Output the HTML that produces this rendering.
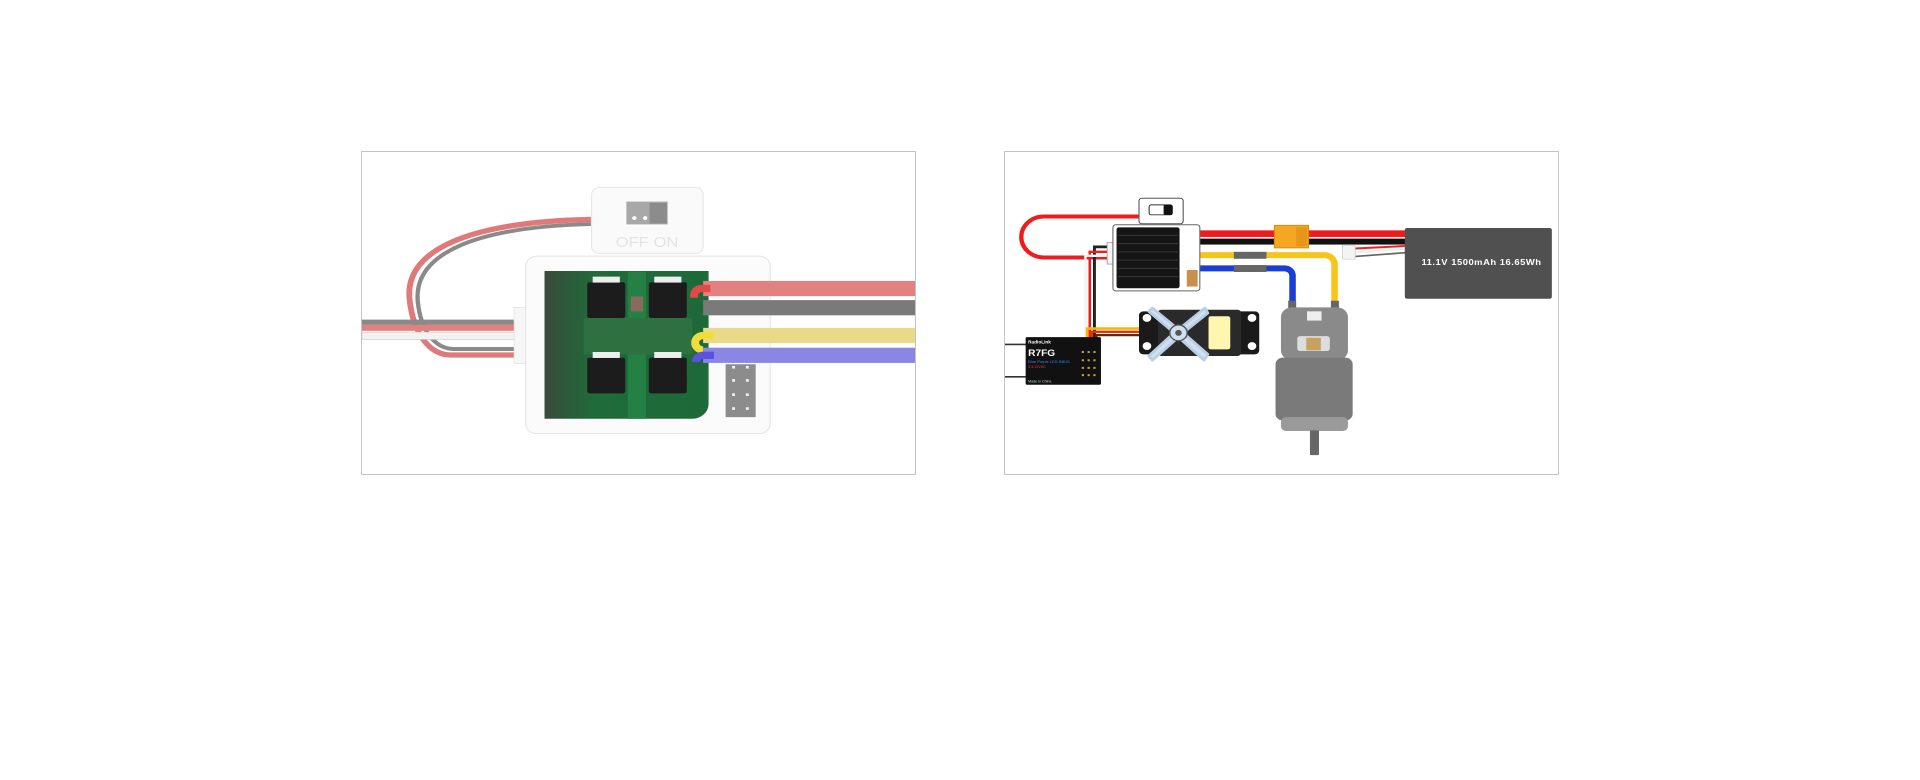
<!DOCTYPE html>
<html><head><meta charset="utf-8"><style>
html,body{margin:0;padding:0;background:#fff;width:1920px;height:780px;overflow:hidden}
.box{position:absolute;top:151px;width:553px;height:322px;border:1px solid #c4c4c4;background:#fff}
svg{position:absolute;left:0;top:0;width:553px;height:322px}
text{font-family:"Liberation Sans",sans-serif}
</style></head><body>
<div class="box" style="left:361px">
<svg viewBox="18 18 1527 974" preserveAspectRatio="none">
<defs>
<linearGradient id="pcb" x1="0" x2="1"><stop offset="0" stop-color="#3a4a3a"/><stop offset="0.3" stop-color="#1f6b3a"/><stop offset="1" stop-color="#1d6a38"/></linearGradient>
</defs>
<path d="M650 222 C 300 230 130 320 150 470 C 160 560 200 630 260 632 L 445 632" fill="none" stroke="#e07a7a" stroke-width="16"/>
<path d="M650 236 C 320 245 160 330 172 470 C 180 560 220 612 270 614 L 445 614" fill="none" stroke="#8a8a8a" stroke-width="12"/>
<rect x="18" y="525" width="430" height="16" fill="#8a8a8a"/>
<rect x="18" y="541" width="430" height="18" fill="#e48080"/>
<rect x="18" y="563" width="430" height="22" fill="#f2f2f2" stroke="#ccc" stroke-width="2"/>
<rect x="652" y="125" width="308" height="200" rx="22" fill="#fafafa" stroke="#e6e6e6" stroke-width="3"/>
<rect x="748" y="168" width="114" height="69" fill="#a8a8a8"/>
<rect x="812" y="172" width="48" height="62" fill="#8c8c8c"/>
<circle cx="770" cy="218" r="6" fill="#fff"/><circle cx="800" cy="218" r="6" fill="#fff"/>
<text x="805" y="305" font-size="46" fill="#e4e4e4" text-anchor="middle">OFF  ON</text>
<rect x="438" y="488" width="40" height="170" fill="#f6f6f6" stroke="#e0e0e0" stroke-width="2"/>
<rect x="470" y="333" width="675" height="537" rx="30" fill="#fbfbfb" stroke="#e4e4e4" stroke-width="3"/>
<path d="M522 378 H975 V780 a45 45 0 0 1 -45 45 H522 Z" fill="url(#pcb)"/>
<rect x="752" y="380" width="50" height="445" fill="#248044"/>
<rect x="630" y="520" width="300" height="110" fill="#2f7040"/>
<g fill="#1c1c1c">
<rect x="640" y="412" width="105" height="108" rx="6"/><rect x="810" y="412" width="105" height="108" rx="6"/>
<rect x="640" y="640" width="105" height="108" rx="6"/><rect x="810" y="640" width="105" height="108" rx="6"/>
</g>
<g fill="#eee"><rect x="655" y="395" width="75" height="18"/><rect x="825" y="395" width="75" height="18"/>
<rect x="655" y="623" width="75" height="18"/><rect x="825" y="623" width="75" height="18"/></g>
<rect x="760" y="455" width="34" height="45" fill="#8a6a5a"/>
<rect x="1022" y="660" width="83" height="160" fill="#8c8c8c"/>
<g fill="#f0f0f0"><rect x="1040" y="665" width="8" height="8"/><rect x="1078" y="665" width="8" height="8"/>
<rect x="1040" y="705" width="8" height="8"/><rect x="1078" y="705" width="8" height="8"/>
<rect x="1040" y="748" width="8" height="8"/><rect x="1078" y="748" width="8" height="8"/>
<rect x="1040" y="790" width="8" height="8"/><rect x="1078" y="790" width="8" height="8"/></g>
<rect x="960" y="408" width="585" height="46" fill="#e38080"/>
<path d="M980 431 H 955 a20 20 0 0 0 -20 20 v 8" fill="none" stroke="#e04a4a" stroke-width="22"/>
<rect x="960" y="466" width="585" height="46" fill="#7a7a7a"/>
<rect x="960" y="550" width="585" height="46" fill="#e8da88"/>
<path d="M990 573 H 960 a22 22 0 0 0 0 44" fill="none" stroke="#f0dc3a" stroke-width="22"/>
<rect x="960" y="610" width="585" height="46" fill="#8a86e6"/>
<path d="M990 633 H 960 a20 20 0 0 0 -20 20" fill="none" stroke="#5a52e0" stroke-width="22"/>
</svg></div>

<div class="box" style="left:1004px">
<svg viewBox="18 18 1527 974" preserveAspectRatio="none">
<path d="M392 213 H 125 a 62 62 0 0 0 0 124 H 300" fill="none" stroke="#ee1c1c" stroke-width="12"/>
<path d="M300 305 H 265 V 610" fill="none" stroke="#222" stroke-width="8"/>
<path d="M300 320 H 252 V 610" fill="none" stroke="#ee1c1c" stroke-width="7"/>
<path d="M300 332 H 240 V 610" fill="none" stroke="#f4f4f4" stroke-width="7"/>
<path d="M390 552 H 245 V 610" fill="none" stroke="#f5b800" stroke-width="8"/>
<path d="M390 562 H 258 V 610" fill="none" stroke="#e83010" stroke-width="7"/>
<path d="M390 572 H 270 V 610" fill="none" stroke="#5a2a10" stroke-width="7"/>
<rect x="490" y="255" width="648" height="20" fill="#ee1c1c"/>
<rect x="490" y="280" width="648" height="18" fill="#111"/>
<rect x="762" y="240" width="94" height="68" fill="#f5a623" stroke="#e08a00" stroke-width="3"/>
<rect x="822" y="245" width="30" height="58" fill="#e8961a"/>
<path d="M985 310 L 1130 302" stroke="#e22" stroke-width="6"/>
<path d="M985 322 L 1130 312" stroke="#eee" stroke-width="6"/>
<path d="M985 334 L 1130 322" stroke="#666" stroke-width="5"/>
<rect x="950" y="300" width="35" height="42" fill="#f4f4f4" stroke="#ccc" stroke-width="2"/>
<rect x="1122" y="248" width="406" height="214" rx="6" fill="#505050"/>
<text x="1333" y="360" font-size="26" font-weight="bold" fill="#fff" text-anchor="middle" textLength="330">11.1V  1500mAh  16.65Wh</text>
<path d="M495 345 a15 15 0 0 1 15 -15 H 900 a 28 28 0 0 1 28 28 V 480" fill="none" stroke="#f5c518" stroke-width="18"/>
<path d="M495 385 a15 15 0 0 1 15 -15 H 790 a 22 22 0 0 1 22 22 V 480" fill="none" stroke="#1a3ed4" stroke-width="18"/>
<rect x="650" y="320" width="90" height="21" fill="#666"/>
<rect x="650" y="360" width="90" height="21" fill="#666"/>
<rect x="918" y="468" width="22" height="32" fill="#666"/><rect x="800" y="468" width="22" height="32" fill="#666"/>
<rect x="388" y="158" width="122" height="77" rx="8" fill="#fff" stroke="#555" stroke-width="3"/>
<rect x="416" y="178" width="64" height="30" rx="6" fill="#fff" stroke="#333" stroke-width="3"/>
<rect x="456" y="178" width="24" height="30" rx="4" fill="#111"/>
<rect x="300" y="292" width="20" height="65" fill="#f4f4f4" stroke="#888" stroke-width="2"/>
<rect x="316" y="238" width="240" height="200" rx="8" fill="#fff" stroke="#666" stroke-width="3"/>
<rect x="326" y="246" width="174" height="184" rx="6" fill="#151515"/>
<g stroke="#3a3a3a" stroke-width="3"><line x1="330" y1="270" x2="496" y2="270"/><line x1="330" y1="295" x2="496" y2="295"/><line x1="330" y1="320" x2="496" y2="320"/><line x1="330" y1="345" x2="496" y2="345"/><line x1="330" y1="370" x2="496" y2="370"/><line x1="330" y1="395" x2="496" y2="395"/></g>
<rect x="520" y="375" width="30" height="50" fill="#c8904a"/>
<line x1="18" y1="600" x2="80" y2="600" stroke="#333" stroke-width="5"/>
<line x1="18" y1="698" x2="80" y2="698" stroke="#333" stroke-width="5"/>
<rect x="75" y="578" width="208" height="144" rx="4" fill="#111"/>
<text x="82" y="598" font-size="13" fill="#fff" font-weight="bold">RadioLink</text>
<text x="82" y="635" font-size="28" fill="#fff" font-weight="bold">R7FG</text>
<text x="82" y="656" font-size="11" fill="#1e90ff">Blue Purple LED-SBUS</text>
<text x="82" y="672" font-size="10" fill="#e33">3.3-12VDC</text>
<text x="82" y="716" font-size="10" fill="#ccc">Made in China</text>
<g fill="#c8a040"><rect x="230" y="620" width="6" height="6"/><rect x="246" y="620" width="6" height="6"/><rect x="262" y="620" width="6" height="6"/>
<rect x="230" y="645" width="6" height="6"/><rect x="246" y="645" width="6" height="6"/><rect x="262" y="645" width="6" height="6"/>
<rect x="230" y="668" width="6" height="6"/><rect x="246" y="668" width="6" height="6"/><rect x="262" y="668" width="6" height="6"/>
<rect x="230" y="690" width="6" height="6"/><rect x="246" y="690" width="6" height="6"/><rect x="262" y="690" width="6" height="6"/></g>
<rect x="388" y="500" width="332" height="130" rx="12" fill="#1a1a1a"/>
<rect x="440" y="495" width="230" height="140" rx="10" fill="#2a2a2a"/>
<circle cx="410" cy="520" r="12" fill="#fff"/><circle cx="410" cy="605" r="12" fill="#fff"/>
<circle cx="700" cy="520" r="12" fill="#fff"/><circle cx="700" cy="605" r="12" fill="#fff"/>
<path d="M425 490 L 497 555 L 570 490 L 578 505 L 510 565 L 578 630 L 568 648 L 497 578 L 425 648 L 415 635 L 485 565 L 415 500 Z" fill="#cfe0f0" stroke="#b9cfe5" stroke-width="8" stroke-linejoin="round"/>
<circle cx="497" cy="565" r="24" fill="#cfe0f0" stroke="#555" stroke-width="4"/>
<circle cx="497" cy="565" r="9" fill="#555"/>
<rect x="580" y="515" width="60" height="100" rx="6" fill="#fff6b0"/>
<rect x="780" y="488" width="185" height="160" rx="30" fill="#8a8a8a"/>
<rect x="852" y="500" width="40" height="28" fill="#eee"/>
<rect x="825" y="575" width="90" height="45" rx="8" fill="#ddd"/>
<rect x="850" y="580" width="40" height="38" fill="#c8a060"/>
<rect x="765" y="640" width="213" height="190" rx="20" fill="#7a7a7a"/>
<rect x="780" y="820" width="185" height="42" rx="14" fill="#9a9a9a"/>
<rect x="860" y="860" width="25" height="75" rx="3" fill="#666"/>
</svg></div>
</body></html>
